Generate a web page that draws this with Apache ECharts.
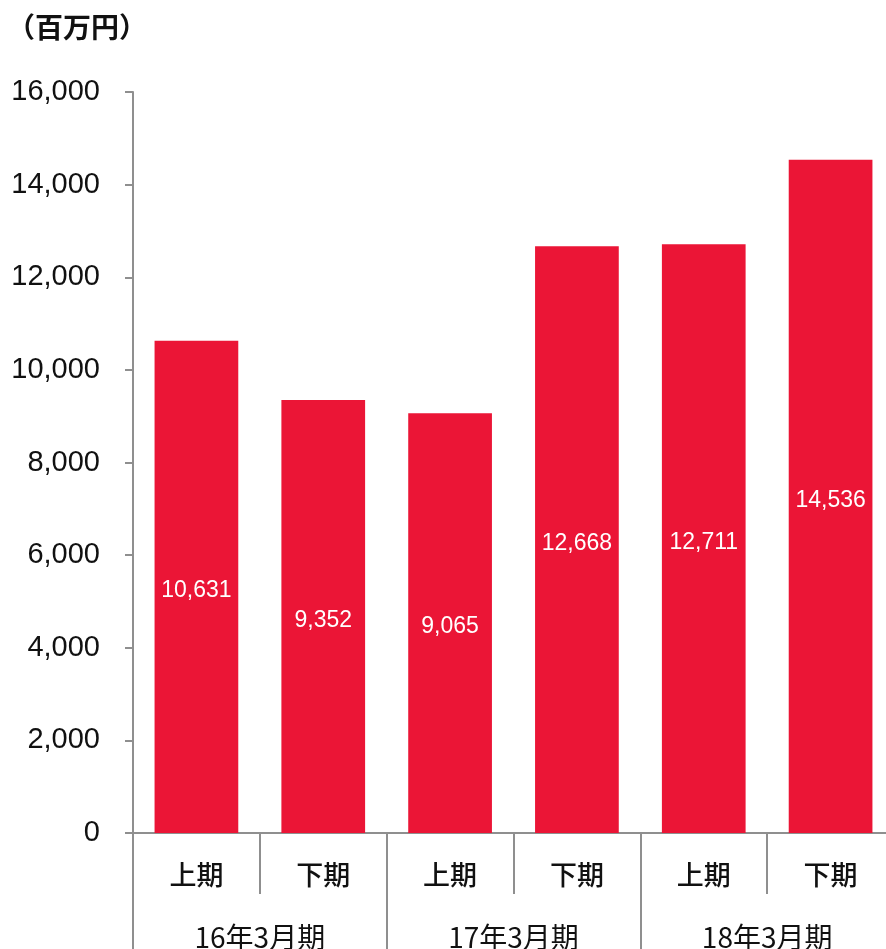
<!DOCTYPE html>
<html>
<head>
<meta charset="utf-8">
<script src="https://cdn.jsdelivr.net/npm/echarts@6/dist/echarts.min.js"></script>
<style>
  html, body { margin: 0; padding: 0; background: #fff; }
  #chart { width: 886px; height: 949px; }
</style>
</head>
<body>
<div id="chart"></div>
<script>
// half-year sales, 百万円
const halves = ['上期', '下期', '上期', '下期', '上期', '下期'];
const years = ['16年3月期', '17年3月期', '18年3月期'];
const sales = [10631, 9352, 9065, 12668, 12711, 14536];

const axisGray = '#8f8f8f';
const jpFont = '"Noto Sans CJK JP", "Liberation Sans", sans-serif';
const numFont = '"Liberation Sans", Arial, sans-serif';

const myChart = echarts.init(document.getElementById('chart'));

const option = {
  animation: false,
  title: {
    text: '（百万円）',
    left: 2,
    top: 8,
    textStyle: { fontFamily: jpFont, fontSize: 28, fontWeight: 'bold', color: '#111' }
  },
  // grid runs a little past the right edge, like the original
  grid: { left: 133, width: 761, top: 92, bottom: 116, containLabel: false, outerBoundsMode: 'none' },
  xAxis: [
    {
      type: 'category',
      data: halves,
      position: 'bottom',
      axisLine: { lineStyle: { color: axisGray, width: 2 } },
      axisTick: { show: true, interval: 0, length: 61, lineStyle: { color: axisGray, width: 2 } },
      axisLabel: { interval: 0, margin: 28, color: '#111', fontFamily: jpFont, fontSize: 27, fontWeight: 500 }
    },
    {
      type: 'category',
      data: years,
      position: 'bottom',
      axisLine: { show: false },
      axisTick: { show: true, interval: 0, length: 116, lineStyle: { color: axisGray, width: 2 } },
      axisLabel: { interval: 0, margin: 90, color: '#111', fontFamily: jpFont, fontSize: 28 }
    }
  ],
  yAxis: {
    type: 'value',
    min: 0,
    max: 16000,
    interval: 2000,
    axisLine: { show: true, lineStyle: { color: axisGray, width: 2 } },
    axisTick: { show: true, length: 8, lineStyle: { color: axisGray, width: 2 } },
    splitLine: { show: false },
    axisLabel: {
      margin: 33,
      color: '#111',
      fontFamily: numFont,
      fontSize: 29,
      formatter: v => v.toLocaleString('en-US')
    }
  },
  series: [
    {
      type: 'bar',
      xAxisIndex: 0,
      data: sales,
      barWidth: '66%',
      itemStyle: { color: '#EB1536' },
      label: {
        show: true,
        position: 'inside',
        offset: [0, 4],
        color: '#fff',
        fontFamily: numFont,
        fontSize: 23,
        formatter: p => p.value.toLocaleString('en-US')
      }
    }
  ]
};

option && myChart.setOption(option);
</script>
</body>
</html>
